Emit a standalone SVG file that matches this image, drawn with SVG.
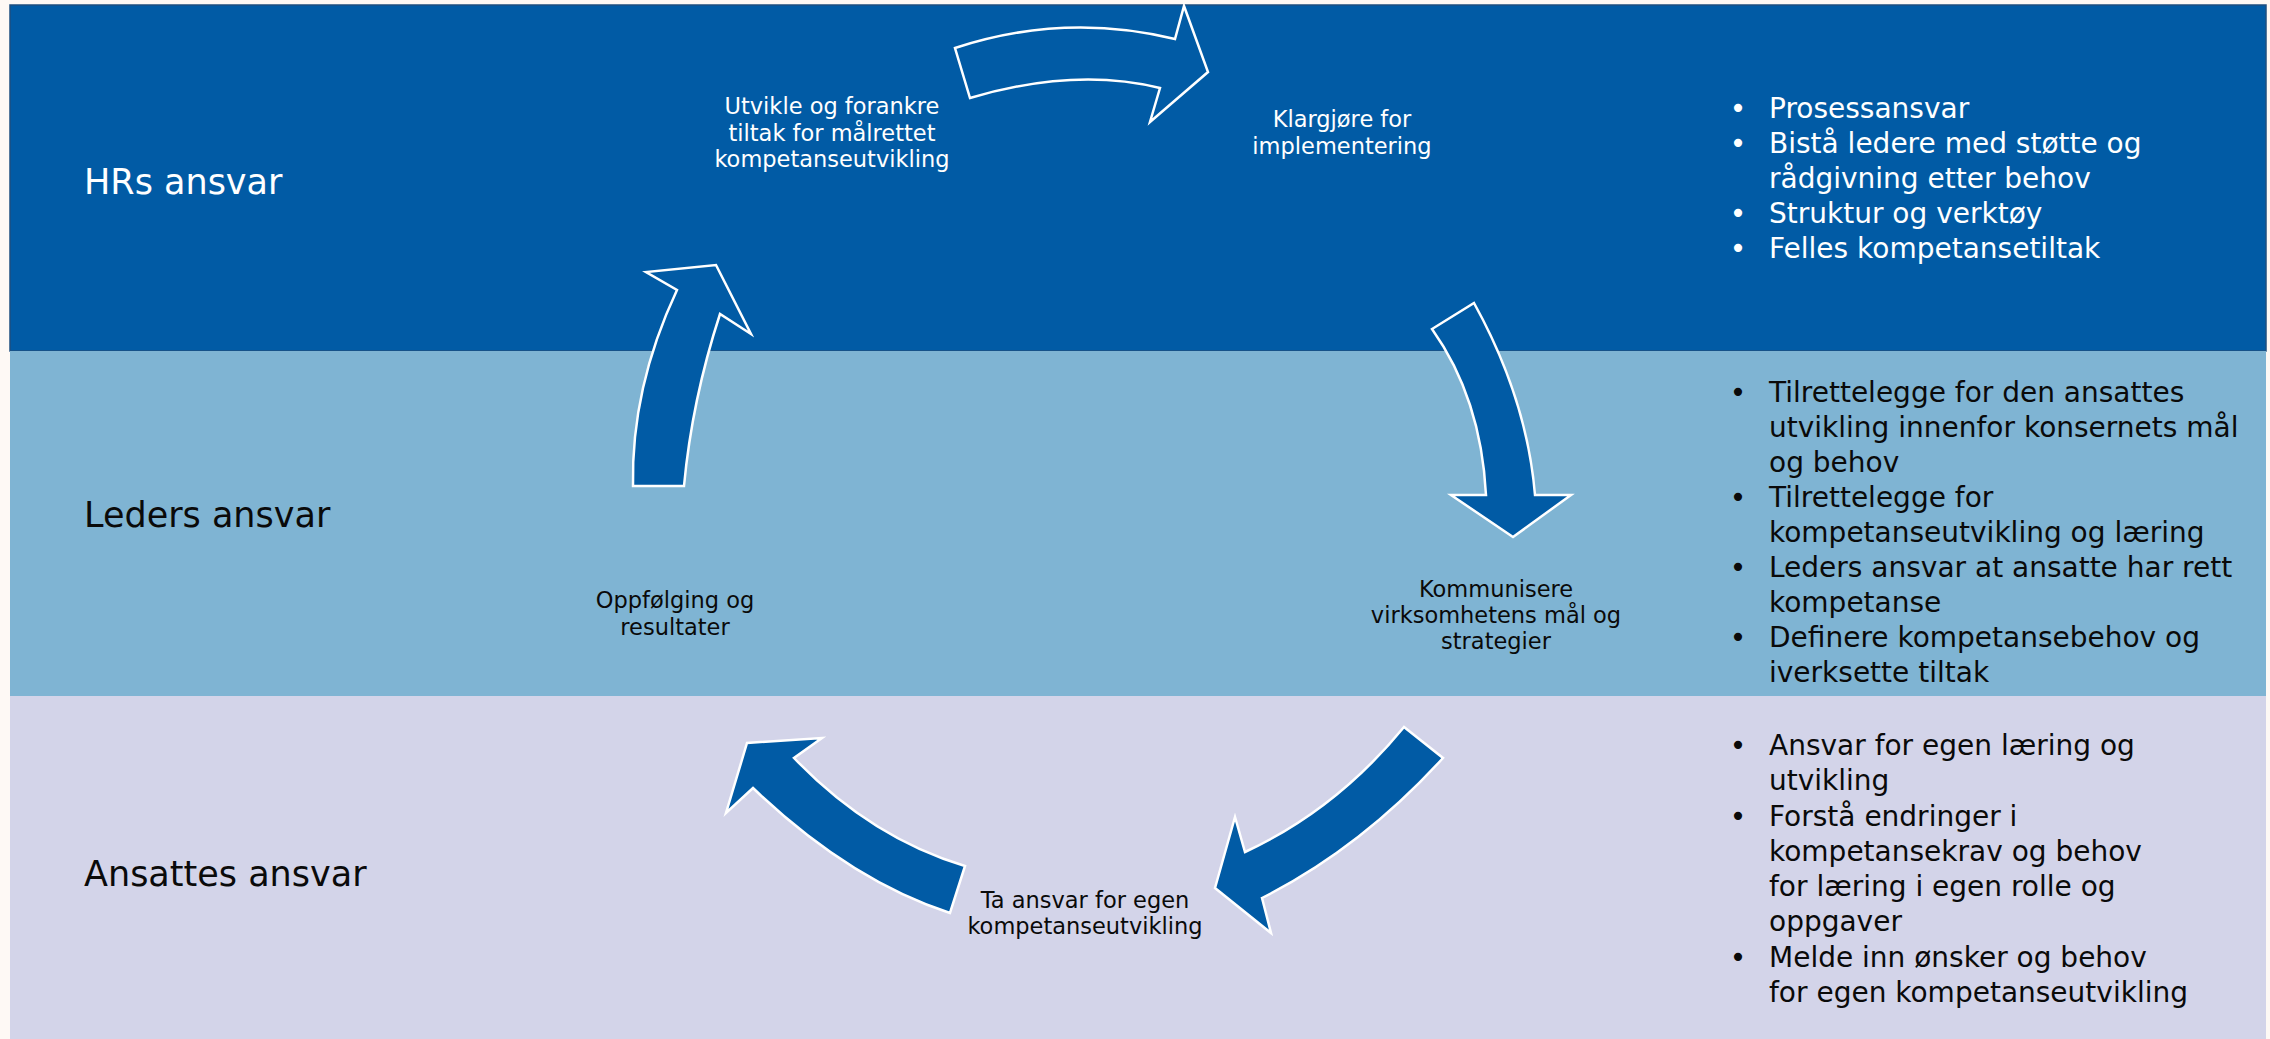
<svg xmlns="http://www.w3.org/2000/svg" width="2270" height="1039" viewBox="0 0 2270 1039">
<style>
.band-label{font-family:"DejaVu Sans",sans-serif;font-size:35px}
.step{font-family:"DejaVu Sans",sans-serif;font-size:22.5px;text-anchor:middle}
.bul{font-family:"DejaVu Sans",sans-serif;font-size:28px}
.w{fill:#ffffff}
.k{fill:#0a0a0a}
.arrow{fill:#015BA5;stroke:#ffffff;stroke-width:2.5;stroke-linejoin:miter}
</style>
<rect x="0" y="0" width="2270" height="1039" fill="#FEF9F5"/>
<g id="band-hr">
<rect x="10" y="5" width="2256" height="346" fill="#015BA5" stroke="#1E4F80" stroke-width="1.5"/>
<text class="band-label w" x="84" y="194">HRs ansvar</text>
</g>
<g id="band-leder">
<rect x="10" y="351" width="2256" height="345" fill="#7FB4D3"/>
<text class="band-label k" x="84" y="527">Leders ansvar</text>
</g>
<g id="band-ansatte">
<rect x="10" y="696" width="2256" height="343" fill="#D3D4E9"/>
<text class="band-label k" x="84" y="886">Ansattes ansvar</text>
</g>
<g id="connectors">
<path class="arrow" d="M955,48 Q1065,12 1175,39 L1184,6 L1208,72 L1150,122 L1160,88 Q1075,67 970,98 Z"/>
<path class="arrow" d="M1474,303 Q1527,399 1535,495 L1571,495 L1513,537 L1451,495 L1486,495 Q1481,398 1432,329 Z"/>
<path class="arrow" d="M1404,727 L1443,758 Q1361,848 1262,898 L1271,933 L1215,888 L1235,817 L1245,852 Q1336,810 1404,727 Z"/>
<path class="arrow" d="M965,866 Q871,838 794,758 L822,738 L747,743 L726,813 L753,788 Q849,880 950,913 Z"/>
<path class="arrow" d="M633,486 L684,486 Q692,400 720,314 L751,334 L716,265 L646,272 L677,290 Q631,388 633,486 Z"/>
</g>
<g id="step-utvikle">
<text class="step w" x="832" y="114">Utvikle og forankre</text>
<text class="step w" x="832" y="140.5">tiltak for målrettet</text>
<text class="step w" x="832" y="167">kompetanseutvikling</text>
</g>
<g id="step-klargjore">
<text class="step w" x="1342" y="127">Klargjøre for</text>
<text class="step w" x="1342" y="153.5">implementering</text>
</g>
<g id="step-kommunisere">
<text class="step k" x="1496" y="597">Kommunisere</text>
<text class="step k" x="1496" y="623">virksomhetens mål og</text>
<text class="step k" x="1496" y="648.5">strategier</text>
</g>
<g id="step-ta-ansvar">
<text class="step k" x="1085" y="907.5">Ta ansvar for egen</text>
<text class="step k" x="1085" y="933.5">kompetanseutvikling</text>
</g>
<g id="step-oppfolging">
<text class="step k" x="675" y="607.5">Oppfølging og</text>
<text class="step k" x="675" y="635">resultater</text>
</g>
<g id="list-hr" class="bul w">
<text x="1738" y="118" text-anchor="middle">•</text><text x="1769" y="118">Prosessansvar</text>
<text x="1738" y="153" text-anchor="middle">•</text><text x="1769" y="153">Bistå ledere med støtte og</text>
<text x="1769" y="188">rådgivning etter behov</text>
<text x="1738" y="223" text-anchor="middle">•</text><text x="1769" y="223">Struktur og verktøy</text>
<text x="1738" y="258" text-anchor="middle">•</text><text x="1769" y="258">Felles kompetansetiltak</text>
</g>
<g id="list-leder" class="bul k">
<text x="1738" y="402" text-anchor="middle">•</text><text x="1769" y="402">Tilrettelegge for den ansattes</text>
<text x="1769" y="437">utvikling innenfor konsernets mål</text>
<text x="1769" y="472">og behov</text>
<text x="1738" y="507" text-anchor="middle">•</text><text x="1769" y="507">Tilrettelegge for</text>
<text x="1769" y="542">kompetanseutvikling og læring</text>
<text x="1738" y="577" text-anchor="middle">•</text><text x="1769" y="577">Leders ansvar at ansatte har rett</text>
<text x="1769" y="612">kompetanse</text>
<text x="1738" y="647" text-anchor="middle">•</text><text x="1769" y="647">Definere kompetansebehov og</text>
<text x="1769" y="682">iverksette tiltak</text>
</g>
<g id="list-ansatte" class="bul k">
<text x="1738" y="755" text-anchor="middle">•</text><text x="1769" y="755">Ansvar for egen læring og</text>
<text x="1769" y="790">utvikling</text>
<text x="1738" y="825.5" text-anchor="middle">•</text><text x="1769" y="825.5">Forstå endringer i</text>
<text x="1769" y="861">kompetansekrav og behov</text>
<text x="1769" y="896">for læring i egen rolle og</text>
<text x="1769" y="931">oppgaver</text>
<text x="1738" y="966.5" text-anchor="middle">•</text><text x="1769" y="966.5">Melde inn ønsker og behov</text>
<text x="1769" y="1002">for egen kompetanseutvikling</text>
</g>
</svg>
